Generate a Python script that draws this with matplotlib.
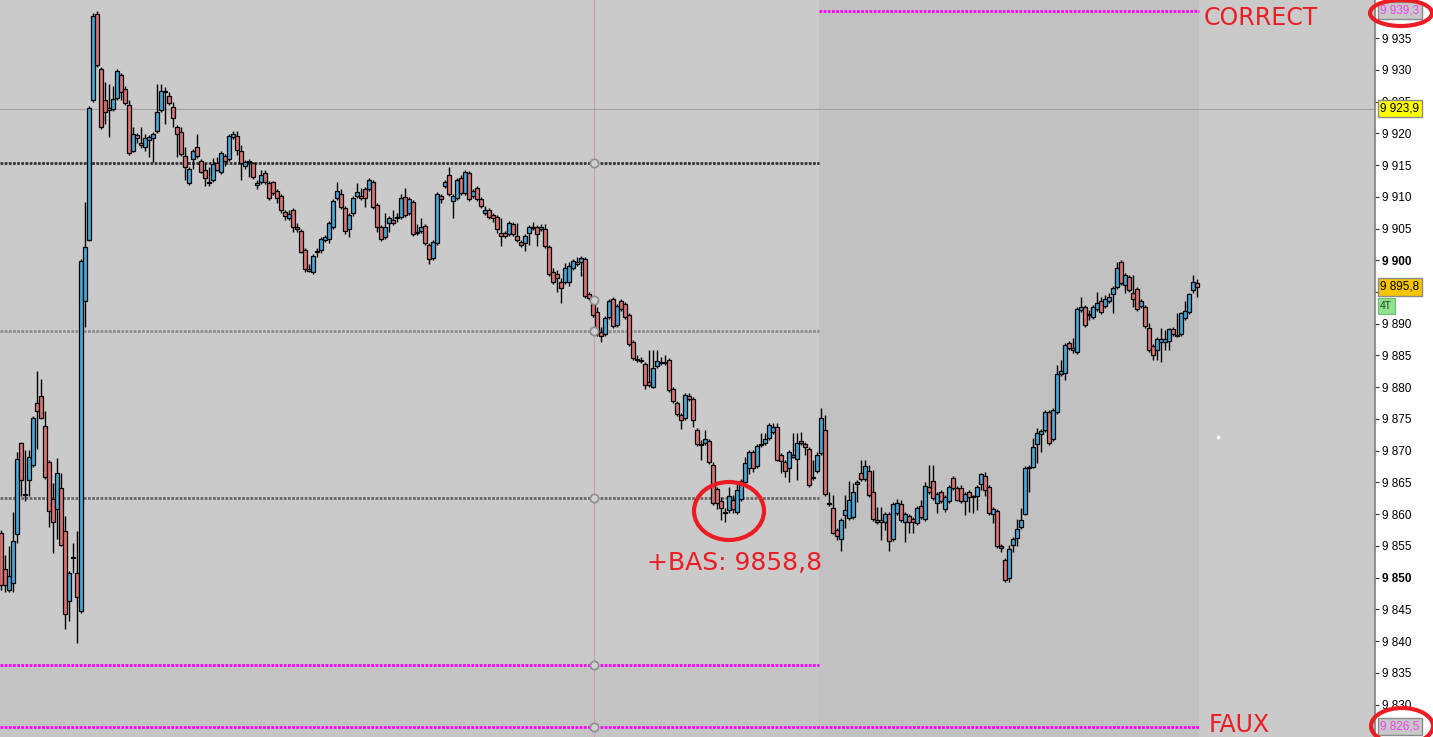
import matplotlib
matplotlib.use("Agg")
import matplotlib.pyplot as plt
import matplotlib.transforms as mtransforms
from matplotlib.patches import Ellipse
import numpy as np

# ---------------- data ----------------
opens = [
9857.1, 9851.4, 9848.0, 9849.2, 9856.9, 9871.2, 9863.0, 9865.4, 9867.8, 9877.5,
9878.6, 9873.9, 9868.2, 9862.4, 9860.8, 9864.2, 9857.4, 9846.4, 9853.1, 9850.8,
9844.8, 9893.6, 9903.2, 9925.3, 9938.8, 9930.1, 9925.3, 9924.0, 9923.8, 9925.6,
9929.2, 9927.0, 9924.5, 9917.2, 9919.7, 9918.5, 9917.9, 9919.0, 9919.3, 9920.4,
9923.7, 9926.5, 9925.9, 9924.2, 9921.0, 9920.2, 9916.4, 9912.2, 9916.0, 9917.9,
9915.6, 9914.2, 9912.2, 9912.7, 9915.3, 9913.9, 9916.4, 9916.0, 9919.4, 9919.6,
9917.2, 9914.9, 9915.5, 9915.3, 9911.9, 9912.3, 9913.8, 9912.2, 9912.3, 9910.9,
9910.1, 9907.6, 9906.7, 9907.9, 9905.3, 9904.6, 9901.6, 9898.6, 9898.2, 9901.3,
9901.6, 9903.2, 9903.4, 9905.3, 9909.8, 9910.4, 9908.2, 9904.9, 9907.5, 9910.1,
9910.1, 9911.2, 9911.2, 9912.3, 9908.7, 9905.3, 9903.7, 9905.9, 9906.4, 9906.7,
9906.8, 9910.0, 9907.5, 9909.2, 9904.3, 9904.6, 9905.4, 9902.4, 9900.4, 9902.7,
9910.1, 9911.7, 9913.4, 9909.3, 9909.8, 9913.0, 9910.6, 9913.8, 9910.1, 9911.4,
9909.7, 9907.5, 9907.9, 9907.1, 9906.8, 9904.3, 9904.3, 9904.1, 9905.7, 9903.8,
9902.9, 9902.7, 9904.3, 9905.1, 9905.3, 9904.9, 9904.9, 9902.1, 9898.2, 9897.9,
9896.6, 9896.6, 9896.6, 9898.8, 9899.7, 9899.7, 9900.2, 9894.7, 9893.1, 9891.9,
9888.7, 9888.4, 9891.1, 9893.9, 9889.8, 9893.6, 9893.1, 9891.4, 9887.1, 9884.3,
9884.1, 9883.7, 9880.8, 9880.1, 9883.4, 9883.8, 9883.8, 9884.3, 9879.7, 9877.5,
9875.6, 9875.2, 9878.6, 9878.2, 9873.3, 9870.9, 9871.2, 9871.6, 9867.8, 9864.0,
9862.0, 9860.2, 9860.7, 9862.3, 9860.4, 9862.4, 9865.1, 9867.3, 9869.8, 9867.6,
9870.9, 9871.2, 9872.0, 9872.9, 9873.8, 9869.3, 9868.2, 9867.3, 9869.3, 9868.7,
9871.6, 9871.1, 9870.3, 9865.7, 9866.8, 9869.7, 9873.3, 9861.6, 9861.0, 9857.5,
9856.1, 9859.8, 9859.4, 9859.6, 9865.1, 9866.5, 9865.6, 9866.8, 9863.5, 9859.1,
9859.1, 9858.8, 9860.1, 9856.1, 9860.2, 9861.6, 9858.8, 9859.7, 9859.3, 9858.6,
9861.3, 9859.3, 9864.3, 9865.3, 9861.8, 9863.5, 9860.8, 9862.1, 9865.7, 9864.1,
9864.1, 9862.1, 9863.5, 9862.7, 9862.9, 9864.8, 9866.0, 9864.3, 9860.1, 9860.5,
9854.7, 9852.8, 9850.0, 9855.2, 9856.3, 9858.0, 9860.1, 9867.5, 9867.5, 9871.1,
9872.7, 9873.3, 9876.1, 9871.9, 9876.1, 9882.1, 9882.3, 9887.0, 9885.9, 9885.6,
9892.2, 9892.7, 9891.4, 9891.1, 9892.3, 9893.6, 9892.8, 9893.6, 9894.7, 9895.8,
9899.7, 9896.1, 9897.4, 9894.9, 9895.5, 9892.8, 9892.7, 9889.3, 9886.5, 9885.9,
9887.1, 9887.1, 9887.3, 9889.2, 9888.1, 9888.4, 9890.9, 9891.9, 9895.3, 9896.4,
]
highs = [
9857.5, 9853.6, 9855.0, 9860.4, 9869.8, 9871.4, 9870.1, 9870.1, 9875.5, 9882.6,
9881.3, 9876.3, 9868.5, 9864.9, 9868.9, 9866.5, 9859.7, 9851.0, 9855.5, 9857.4,
9900.2, 9909.2, 9924.3, 9939.0, 9939.3, 9930.4, 9928.1, 9927.8, 9927.5, 9930.1,
9929.5, 9927.5, 9925.3, 9921.0, 9920.0, 9921.0, 9919.9, 9919.7, 9920.2, 9927.8,
9927.8, 9927.3, 9926.5, 9924.9, 9921.3, 9921.0, 9917.9, 9914.7, 9917.5, 9919.9,
9915.9, 9915.3, 9914.7, 9916.1, 9916.3, 9917.2, 9916.7, 9919.9, 9920.4, 9920.4,
9918.2, 9915.8, 9916.0, 9915.5, 9912.7, 9914.2, 9914.2, 9912.5, 9912.5, 9911.2,
9910.4, 9907.9, 9907.9, 9908.2, 9905.9, 9904.9, 9901.9, 9899.4, 9901.0, 9901.9,
9903.7, 9904.0, 9906.2, 9909.6, 9912.3, 9911.2, 9908.5, 9907.4, 9910.1, 9912.2,
9911.4, 9911.5, 9913.0, 9912.7, 9909.0, 9905.6, 9907.5, 9907.0, 9907.9, 9907.5,
9910.4, 9911.4, 9910.0, 9909.5, 9905.7, 9906.7, 9905.7, 9902.7, 9903.2, 9910.7,
9910.4, 9912.6, 9914.7, 9910.4, 9913.0, 9913.4, 9914.2, 9914.1, 9911.2, 9911.7,
9910.0, 9908.5, 9908.2, 9907.4, 9907.1, 9906.7, 9904.6, 9906.2, 9906.0, 9905.9,
9903.2, 9904.1, 9905.6, 9906.0, 9905.6, 9905.7, 9905.7, 9902.4, 9898.8, 9898.5,
9897.2, 9899.6, 9899.7, 9900.2, 9900.5, 9900.7, 9900.5, 9895.0, 9893.9, 9892.7,
9889.5, 9891.2, 9893.9, 9894.2, 9893.1, 9893.9, 9893.4, 9891.7, 9887.4, 9885.1,
9884.8, 9884.0, 9885.9, 9885.9, 9885.9, 9884.8, 9885.0, 9884.6, 9880.0, 9877.8,
9875.9, 9879.1, 9879.1, 9878.5, 9873.6, 9871.7, 9873.3, 9871.9, 9868.2, 9864.3,
9862.7, 9861.0, 9864.3, 9863.0, 9864.9, 9865.6, 9869.0, 9870.1, 9870.1, 9871.1,
9872.8, 9872.8, 9874.4, 9874.4, 9874.4, 9869.6, 9868.5, 9870.1, 9872.8, 9872.8,
9873.0, 9871.4, 9870.6, 9868.6, 9869.8, 9876.7, 9875.6, 9863.5, 9863.0, 9857.8,
9859.4, 9863.1, 9865.3, 9864.9, 9865.4, 9868.6, 9868.6, 9867.8, 9867.0, 9861.2,
9861.2, 9860.4, 9860.4, 9861.9, 9862.4, 9862.3, 9860.4, 9860.0, 9859.6, 9861.3,
9862.3, 9865.1, 9867.8, 9867.8, 9863.5, 9863.8, 9863.0, 9864.6, 9866.0, 9864.4,
9864.6, 9863.5, 9863.8, 9863.0, 9864.6, 9866.5, 9866.7, 9864.6, 9861.2, 9860.8,
9855.3, 9853.1, 9855.2, 9856.4, 9859.3, 9861.0, 9867.6, 9867.8, 9872.0, 9873.6,
9873.4, 9876.4, 9876.4, 9876.7, 9883.5, 9884.3, 9887.0, 9887.3, 9887.8, 9892.6,
9894.2, 9893.0, 9892.2, 9893.0, 9895.0, 9894.2, 9894.5, 9894.9, 9895.9, 9899.7,
9900.0, 9898.0, 9897.7, 9897.7, 9895.8, 9893.9, 9893.0, 9890.1, 9886.8, 9887.9,
9889.3, 9889.0, 9889.3, 9889.5, 9891.7, 9891.9, 9893.6, 9894.9, 9897.7, 9897.1,
]
lows = [
9848.1, 9847.8, 9847.8, 9847.8, 9855.5, 9862.9, 9862.0, 9862.9, 9867.5, 9870.3,
9875.0, 9865.6, 9858.0, 9853.9, 9856.1, 9855.0, 9841.9, 9843.2, 9850.8, 9839.7,
9844.5, 9889.5, 9903.0, 9924.9, 9930.5, 9920.7, 9921.5, 9919.4, 9923.5, 9925.3,
9925.3, 9924.5, 9916.6, 9917.0, 9918.5, 9917.7, 9917.2, 9916.3, 9915.5, 9920.1,
9923.4, 9921.5, 9924.5, 9921.0, 9916.3, 9916.4, 9912.7, 9911.9, 9914.4, 9916.1,
9913.8, 9911.7, 9911.7, 9912.4, 9914.0, 9913.6, 9914.9, 9915.7, 9919.1, 9916.6,
9912.7, 9914.4, 9913.1, 9912.8, 9911.2, 9912.0, 9912.0, 9909.5, 9910.3, 9909.0,
9907.5, 9906.4, 9906.4, 9904.5, 9904.5, 9901.2, 9898.2, 9898.2, 9897.9, 9900.5,
9901.2, 9902.9, 9902.7, 9905.0, 9909.5, 9908.1, 9904.1, 9903.7, 9907.0, 9909.8,
9909.5, 9908.4, 9910.9, 9908.1, 9904.5, 9903.0, 9903.4, 9904.5, 9905.6, 9906.0,
9906.5, 9906.8, 9907.2, 9903.8, 9904.0, 9904.3, 9902.4, 9899.4, 9900.1, 9902.4,
9909.0, 9911.4, 9910.1, 9906.7, 9909.5, 9910.3, 9910.3, 9909.4, 9909.8, 9909.4,
9908.3, 9907.2, 9906.5, 9906.0, 9904.3, 9902.3, 9903.5, 9903.8, 9903.8, 9902.9,
9902.1, 9901.5, 9902.4, 9904.8, 9902.3, 9904.6, 9902.0, 9897.5, 9896.3, 9895.0,
9893.3, 9896.3, 9896.0, 9898.5, 9899.1, 9897.5, 9894.1, 9893.8, 9891.1, 9888.1,
9887.1, 9888.1, 9890.8, 9889.4, 9889.5, 9892.0, 9890.8, 9886.5, 9884.3, 9884.0,
9883.8, 9879.7, 9880.1, 9879.8, 9883.1, 9883.5, 9883.5, 9879.3, 9877.5, 9875.5,
9873.4, 9874.9, 9877.9, 9873.8, 9870.8, 9868.6, 9870.9, 9867.9, 9861.5, 9860.8,
9859.1, 9858.8, 9860.2, 9860.2, 9860.1, 9862.1, 9864.8, 9866.4, 9866.7, 9867.3,
9870.6, 9870.9, 9871.7, 9872.6, 9868.3, 9866.5, 9865.9, 9865.1, 9868.9, 9865.4,
9870.9, 9869.3, 9864.3, 9865.4, 9866.5, 9869.4, 9862.9, 9861.3, 9856.8, 9856.0,
9854.2, 9857.8, 9859.1, 9859.3, 9861.9, 9865.3, 9865.3, 9862.7, 9859.0, 9858.5,
9856.0, 9857.5, 9854.2, 9855.8, 9859.9, 9858.8, 9855.6, 9857.1, 9857.1, 9858.3,
9859.3, 9859.0, 9863.2, 9862.3, 9860.2, 9861.8, 9860.4, 9861.8, 9863.8, 9862.0,
9861.8, 9859.9, 9860.4, 9860.2, 9860.7, 9863.8, 9862.9, 9859.9, 9858.6, 9854.7,
9854.1, 9849.3, 9849.3, 9854.1, 9855.0, 9857.7, 9859.8, 9863.5, 9867.2, 9868.1,
9869.8, 9873.0, 9870.9, 9871.6, 9875.8, 9881.8, 9881.2, 9885.9, 9885.4, 9885.3,
9891.9, 9889.5, 9890.6, 9890.8, 9892.0, 9891.6, 9892.5, 9893.3, 9891.7, 9895.5,
9896.1, 9894.9, 9895.0, 9892.7, 9892.0, 9892.5, 9889.4, 9885.6, 9884.3, 9884.3,
9884.0, 9885.9, 9885.9, 9888.1, 9887.9, 9888.1, 9890.6, 9891.6, 9894.9, 9894.2,
]
closes = [
9848.9, 9848.9, 9850.2, 9855.7, 9868.7, 9865.4, 9863.0, 9869.0, 9875.2, 9876.3,
9875.2, 9865.9, 9860.5, 9858.8, 9866.5, 9855.2, 9844.2, 9850.8, 9853.1, 9847.0,
9899.9, 9902.1, 9924.0, 9938.5, 9930.8, 9921.0, 9923.4, 9923.7, 9925.4, 9929.8,
9926.5, 9924.8, 9916.9, 9919.9, 9919.3, 9918.2, 9919.3, 9919.4, 9919.9, 9923.4,
9926.7, 9926.5, 9924.8, 9922.4, 9919.9, 9916.7, 9914.7, 9914.4, 9917.2, 9916.4,
9913.9, 9913.0, 9912.2, 9915.2, 9914.2, 9916.9, 9915.6, 9919.6, 9919.9, 9917.4,
9915.3, 9915.5, 9915.5, 9913.1, 9912.2, 9913.4, 9912.3, 9909.8, 9910.6, 9909.8,
9907.9, 9907.0, 9907.3, 9905.3, 9904.9, 9901.3, 9898.6, 9898.3, 9900.7, 9901.3,
9903.4, 9903.7, 9905.9, 9909.3, 9910.9, 9908.4, 9904.6, 9907.1, 9909.8, 9910.8,
9909.8, 9909.8, 9912.7, 9908.4, 9905.3, 9903.4, 9905.3, 9906.7, 9905.9, 9906.7,
9909.8, 9907.1, 9909.7, 9904.1, 9904.3, 9905.3, 9902.7, 9900.2, 9902.9, 9910.4,
9909.7, 9912.3, 9910.4, 9910.1, 9912.7, 9910.6, 9913.9, 9909.7, 9910.9, 9909.7,
9908.6, 9907.9, 9906.8, 9906.7, 9904.9, 9903.8, 9903.8, 9905.9, 9904.1, 9903.2,
9902.4, 9903.8, 9905.3, 9905.1, 9904.1, 9905.3, 9902.3, 9897.9, 9896.6, 9897.2,
9895.6, 9898.8, 9899.1, 9899.9, 9899.4, 9900.4, 9894.4, 9894.1, 9891.4, 9888.4,
9888.1, 9890.9, 9893.6, 9889.7, 9892.8, 9892.3, 9891.1, 9886.8, 9884.6, 9884.3,
9884.1, 9880.4, 9880.4, 9883.0, 9884.1, 9884.0, 9884.0, 9879.6, 9877.8, 9875.8,
9874.9, 9878.8, 9878.2, 9874.9, 9871.1, 9870.9, 9871.9, 9868.2, 9861.8, 9861.8,
9861.0, 9860.4, 9862.9, 9860.8, 9863.8, 9865.3, 9868.1, 9869.8, 9867.3, 9870.8,
9870.9, 9871.9, 9874.1, 9873.8, 9868.6, 9868.4, 9866.8, 9869.8, 9869.0, 9871.2,
9871.2, 9870.6, 9864.6, 9865.7, 9869.3, 9875.2, 9863.2, 9861.6, 9857.1, 9856.6,
9859.1, 9860.6, 9862.3, 9863.5, 9864.8, 9865.6, 9867.6, 9863.0, 9859.3, 9858.8,
9858.8, 9860.1, 9855.8, 9861.6, 9861.8, 9859.1, 9860.1, 9858.8, 9858.8, 9861.0,
9859.6, 9864.5, 9863.5, 9862.6, 9863.2, 9862.1, 9862.7, 9864.3, 9864.1, 9862.3,
9862.1, 9863.2, 9862.7, 9862.7, 9864.3, 9866.4, 9863.8, 9860.2, 9860.8, 9855.0,
9855.0, 9849.7, 9854.5, 9856.1, 9857.7, 9859.1, 9867.3, 9867.3, 9870.6, 9872.8,
9873.1, 9876.1, 9871.2, 9876.4, 9882.1, 9882.6, 9886.7, 9886.2, 9886.2, 9892.3,
9892.7, 9889.8, 9891.4, 9892.7, 9893.3, 9891.9, 9893.9, 9894.2, 9895.6, 9898.8,
9896.4, 9897.7, 9895.3, 9893.9, 9892.3, 9893.6, 9889.7, 9885.9, 9885.1, 9887.6,
9887.6, 9887.6, 9889.2, 9888.4, 9888.1, 9891.7, 9892.0, 9894.7, 9896.6, 9895.8,
]

dotted_levels = [9915.3, 9888.9, 9862.6]
dotted_colors = ["#333333", "#8c8c8c", "#686868"]
zone_top = 9939.3       # "CORRECT"
zone_low_left = 9836.3
zone_bottom = 9826.5    # "FAUX"
cursor_price = 9923.9
last_price = 9895.8
bas_low = 9858.8
tick_values = list(range(9830, 9940, 5))
bold_ticks = [9900, 9850]

# ---------------- layout ----------------
W, H = 1433, 737
fig = plt.figure(figsize=(W / 100, H / 100), dpi=100)
fig.patch.set_facecolor("white")
plot_w = 1375 / W
ax = fig.add_axes([0, 0, plot_w, 1])
ax.set_facecolor("#cacaca")

n = len(opens)
idx = np.arange(n)
o = np.array(opens); c = np.array(closes)
hi = np.array(highs); lo = np.array(lows)

ax.set_xlim(-0.25, 343.5)
ax.set_ylim(9824.9, 9941.0)

zone_start = 204.5   # candle boundary where the right zone begins
zone_end = n - 0.5
cursor_idx = 148.25

# shaded zones
ax.axvspan(zone_start, zone_end, color="#c1c1c1", zorder=0, lw=0)
ax.fill_between([-0.25, zone_start], 9824.9, zone_low_left, color="#c4c4c4", zorder=0, lw=0)

# crosshair
ax.axvline(cursor_idx, color="#c9a0a0", lw=0.8, zorder=1)
ax.axhline(cursor_price, color="#a8a0a0", lw=0.8, zorder=1)

# dotted reference lines
dash = (0, (1.0, 0.5))
for lvl, col in zip(dotted_levels, dotted_colors):
    ax.hlines(lvl, -0.25, zone_start, colors=col, lw=2.0, linestyles=[dash], zorder=2)
ax.hlines(zone_low_left, -0.25, zone_start, colors="#ff00ff", lw=2.0, linestyles=[dash], zorder=2)
ax.hlines(zone_top, zone_start, zone_end, colors="#ff00ff", lw=2.0, linestyles=[dash], zorder=2)
ax.hlines(zone_bottom, -0.25, zone_end, colors="#ff00ff", lw=2.0, linestyles=[dash], zorder=2)

# small anchor circles on the cursor line
for lvl in dotted_levels + [zone_low_left, zone_bottom, 9893.7]:
    ax.plot([cursor_idx], [lvl], "o", ms=6, mfc="#cfcfcf", mec="#8e8e8e", mew=1.2, zorder=6)

# candles
up_col, dn_col = "#4aa6d6", "#dc7474"
ax.vlines(idx, lo, hi, color="black", lw=1.0, zorder=3)
body_lo = np.minimum(o, c)
body_h = np.abs(c - o)
cols = np.where(c > o, up_col, np.where(c < o, dn_col, "black"))
body_h = np.where(body_h < 0.12, 0.12, body_h)
ax.bar(idx, body_h, bottom=body_lo, width=0.8, color=cols, edgecolor="black",
       linewidth=0.9, zorder=4)

# right price axis
for s in ["top", "left", "bottom"]:
    ax.spines[s].set_visible(False)
ax.spines["right"].set_color("#7f7f7f")
ax.spines["right"].set_linewidth(1.2)
ax.set_xticks([])
ax.yaxis.tick_right()
ax.set_yticks(tick_values)
ax.set_yticklabels([f"9 {v - 9000:03d}" for v in tick_values], fontsize=8.5,
                   family="Liberation Sans")
for lab, v in zip(ax.get_yticklabels(), tick_values):
    if v in bold_ticks:
        lab.set_fontweight("bold")
ax.tick_params(axis="y", direction="out", length=3, width=0.8, color="#333333", pad=2)

trans = mtransforms.blended_transform_factory(ax.transAxes, ax.transData)
lx = 1.0038
def price_box(y, txt, fc, tc, ec="#8a8a8a"):
    ax.text(lx, y, txt, transform=trans, ha="left", va="center", fontsize=8.5,
            family="Liberation Sans", color=tc, clip_on=False, zorder=20,
            bbox=dict(boxstyle="square,pad=0.22", fc=fc, ec=ec, lw=1.0))

price_box(zone_top, "9 939,3", "#c8c8c8", "#f040f0")
price_box(cursor_price, "9 923,9", "#ffff00", "black")
price_box(last_price, "9 895,8", "#f7c500", "black")
ax.text(lx, 9892.8, "4T", transform=trans, ha="left", va="center", fontsize=7.5,
        family="Liberation Sans", color="#1d4d1d", clip_on=False, zorder=20,
        bbox=dict(boxstyle="square,pad=0.25", fc="#8fe08f", ec="#6fbf6f", lw=0.8))
price_box(zone_bottom, "9 826,5", "#c8c8c8", "#f040f0")

# ---------------- hand-drawn red annotations (pixel overlay) ----------------
ov = fig.add_axes([0, 0, 1, 1], zorder=30)
ov.set_xlim(0, W); ov.set_ylim(H, 0); ov.axis("off"); ov.patch.set_alpha(0)
red = "#ec1c24"
ov.add_patch(Ellipse((1401, 13), 62, 26, fill=False, ec=red, lw=3.0))
ov.add_patch(Ellipse((1402, 726), 62, 36, fill=False, ec=red, lw=3.0))
ov.add_patch(Ellipse((729, 511), 70, 58, fill=False, ec=red, lw=3.0))
ov.text(1204, 18, "CORRECT", color=red, fontsize=17, ha="left", va="center",
        family="DejaVu Sans")
ov.text(1209, 725, "FAUX", color=red, fontsize=17, ha="left", va="center",
        family="DejaVu Sans")
ov.text(647, 563, "+BAS: 9858,8", color=red, fontsize=18, ha="left", va="center",
        family="DejaVu Sans")
ov.plot([1218], [437], "s", ms=1.5, color="white")

fig.savefig("out.png", dpi=100, facecolor="white")
